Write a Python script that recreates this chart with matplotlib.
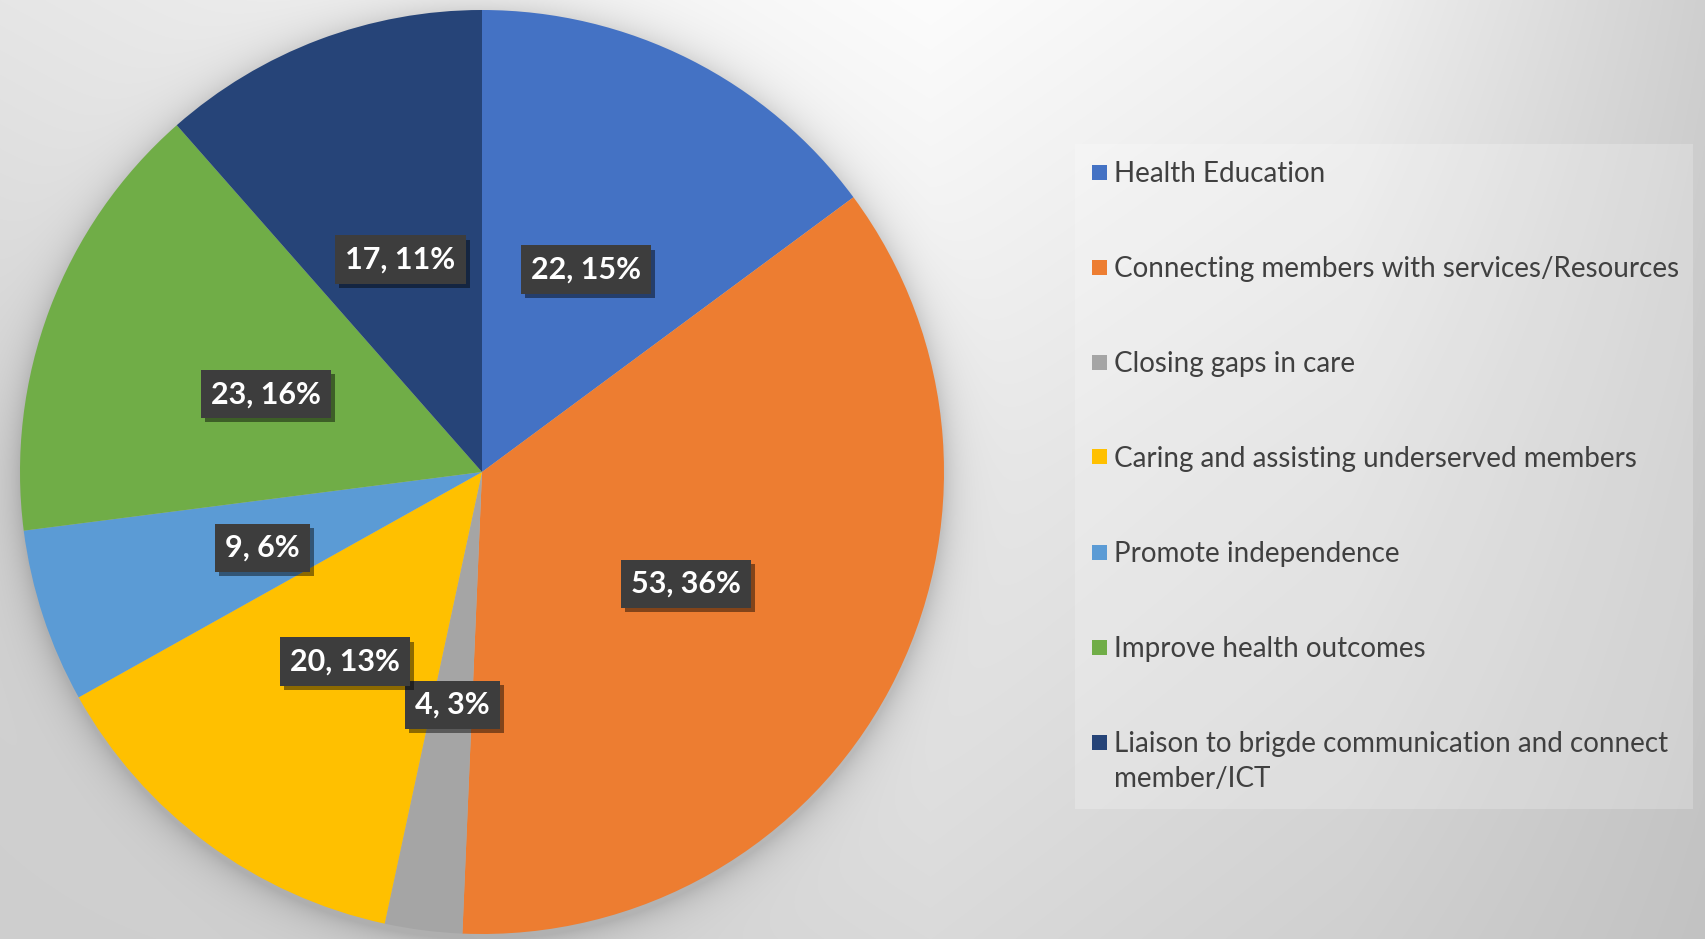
import numpy as np
import matplotlib
matplotlib.use("Agg")
import matplotlib.pyplot as plt
from matplotlib.patches import Rectangle
import matplotlib.patheffects as pe

# ---- data ----
categories = [
    "Health Education",
    "Connecting members with services/Resources",
    "Closing gaps in care",
    "Caring and assisting underserved members",
    "Promote independence",
    "Improve health outcomes",
    "Liaison to brigde communication and connect\nmember/ICT",
]
counts = [22, 53, 4, 20, 9, 23, 17]
percent_labels = ["15%", "36%", "3%", "13%", "6%", "16%", "11%"]
colors = ["#4472C4", "#ED7D31", "#A5A5A5", "#FFC000", "#5B9BD5", "#70AD47", "#264478"]

W, H = 1706, 939
DPI = 100
plt.rcParams["hatch.color"] = "#5c5c5c"
plt.rcParams["hatch.linewidth"] = 1.2

fig = plt.figure(figsize=(W / DPI, H / DPI), dpi=DPI)

# ---- background gradient with pie shadow ----
gx = [0, 450, 930, 1350, 1706]
gy = [0, 470, 939]
gv = np.array([
    [230, 240, 252, 240, 207],
    [211, 222, 233, 222, 200],
    [206, 209, 218, 208, 194],
], dtype=float)
xx = np.arange(W)
yy = np.arange(H)
rows = np.array([np.interp(xx, gx, gv[i]) for i in range(len(gy))])
bg = np.empty((H, W))
for j in range(W):
    bg[:, j] = np.interp(yy, gy, rows[:, j])

cx, cy, R = 482.0, 472.0, 462.0
X, Y = np.meshgrid(xx, yy)
rr = np.hypot(X - cx, Y - (cy + 5))
d = np.clip(rr - R, 0, None)
shadow = 0.16 * np.exp(-d / 16.0)
bg = bg * (1 - shadow)
bg = np.clip(bg, 0, 255) / 255.0
img = np.dstack([bg, bg, bg])

bax = fig.add_axes([0, 0, 1, 1])
bax.imshow(img, extent=[0, W, H, 0], aspect="auto", interpolation="bilinear")
bax.set_xlim(0, W)
bax.set_ylim(H, 0)
bax.axis("off")

# ---- pie ----
ax = fig.add_axes([(cx - R) / W, (H - cy - R) / H, 2 * R / W, 2 * R / H])
wedges, _ = ax.pie(counts, colors=colors, startangle=90, counterclock=False,
                   radius=1.0, wedgeprops=dict(linewidth=0))
ax.set_xlim(-1, 1)
ax.set_ylim(-1, 1)
ax.set_aspect("auto")
ax.axis("off")

for w, c, p in zip(wedges, counts, percent_labels):
    th = np.deg2rad((w.theta1 + w.theta2) / 2)
    x, y = 0.5 * np.cos(th), 0.5 * np.sin(th) - 0.008
    t = ax.text(x, y, f"{c}, {p}", ha="center", va="center", color="white",
                fontsize=22, fontweight="bold", family=["Lato", "DejaVu Sans"],
                bbox=dict(boxstyle="square,pad=0.33", fc="#3d3d3d", ec="none",
                          hatch="...."), zorder=5)
    t.get_bbox_patch().set_path_effects([
        pe.SimplePatchShadow(offset=(3, -3), alpha=0.45, shadow_rgbFace="black"),
        pe.Normal()])

# ---- legend (manual, figure pixel coords) ----
lx0, ly0, lx1, ly1 = 1075, 144, 1693, 809
fig.patches.append(Rectangle((lx0 / W, 1 - ly1 / H), (lx1 - lx0) / W, (ly1 - ly0) / H,
                             transform=fig.transFigure, fc="white", alpha=0.22,
                             ec="none", zorder=1))
entry_y = 172
step = 95
for i, (lab, col) in enumerate(zip(categories, colors)):
    yc = entry_y + i * step
    fig.patches.append(Rectangle((1092 / W, 1 - (yc + 7.5) / H), 15 / W, 15 / H,
                                 transform=fig.transFigure, fc=col, ec="none", zorder=3))
    fig.text(1114 / W, 1 - (yc - 11) / H, lab, ha="left", va="top",
             fontsize=20, color="#404040", family=["Lato", "DejaVu Sans"],
             linespacing=1.45, zorder=3)

fig.savefig("out.png", dpi=DPI)
